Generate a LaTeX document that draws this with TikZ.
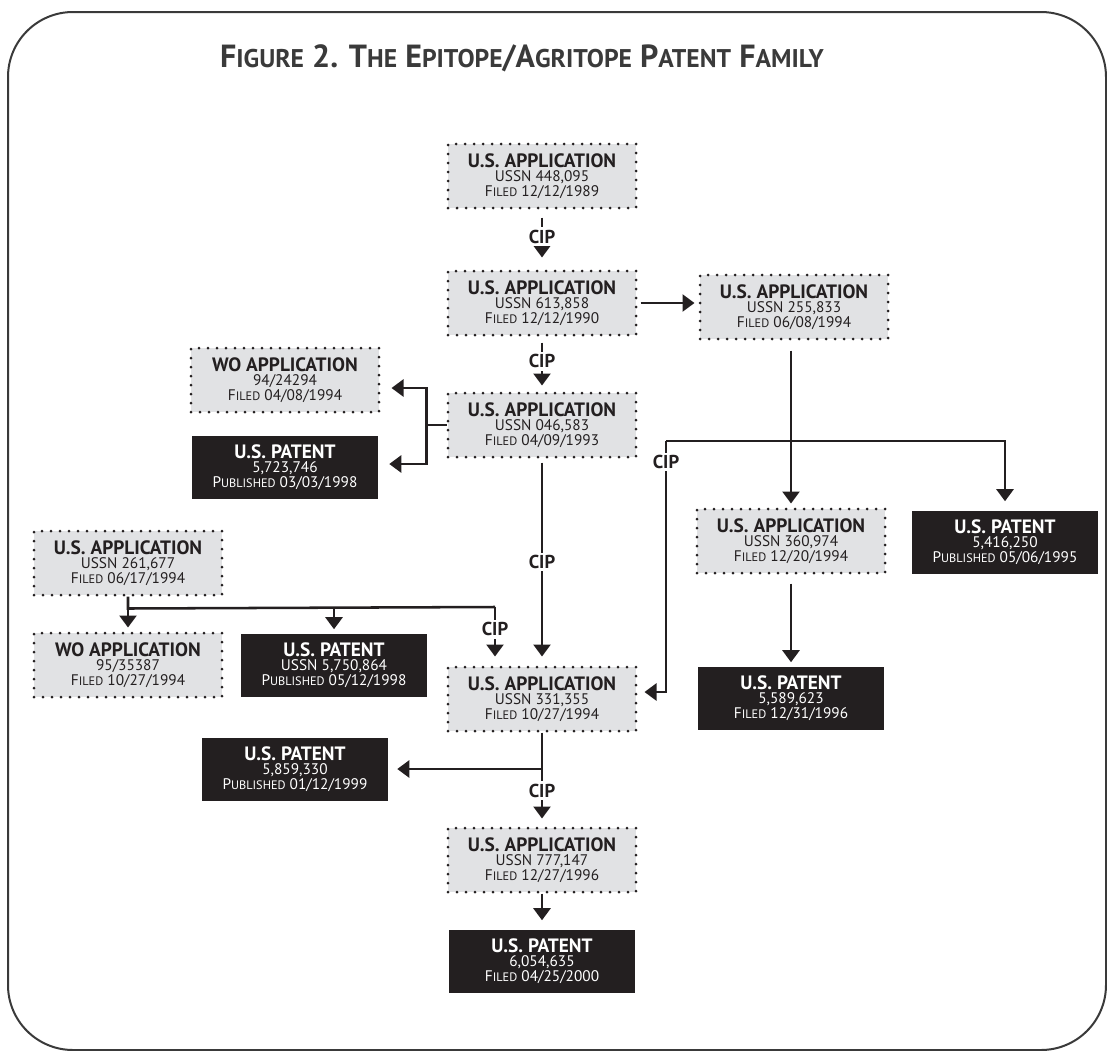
\documentclass[tikz,border=0pt]{standalone}
\usepackage{fontspec}
\setmainfont{PT Sans}
\usepackage{graphicx}
\usetikzlibrary{arrows.meta}

\definecolor{appgray}{HTML}{E1E2E4}
\definecolor{inkblack}{HTML}{231F20}
\definecolor{framegray}{HTML}{3A3A3A}

\newdimen\px \px=0.75pt
\newcommand{\sml}[1]{\scalebox{0.8}{#1}}
\newcommand{\hd}[1]{{\fontsize{14.5pt}{14.5pt}\selectfont\bfseries #1}}

\begin{document}
\begin{tikzpicture}[x=\px, y=-\px,
    wire/.style={draw=inkblack, line width=1.9pt},
    arr/.style={wire, -{Triangle[width=12.75pt,length=9pt]}},
    app/.style={draw=inkblack, fill=appgray, line width=3\px, dash pattern=on 0pt off 9\px,
        line cap=round, minimum width=188\px, minimum height=64\px, inner sep=0pt,
        align=center, text=inkblack, font=\fontsize{11.5pt}{11pt}\selectfont},
    pat/.style={fill=inkblack, text=white, minimum width=186\px, minimum height=63\px,
        inner sep=0pt, align=center, font=\fontsize{11.5pt}{11pt}\selectfont},
    cip/.style={fill=white, text=inkblack, inner xsep=2\px, inner ysep=2.5\px,
        font=\fontsize{14pt}{14pt}\selectfont\bfseries}]
    \useasboundingbox (0,0) rectangle (1107,1050);
    \draw[framegray, line width=2\px, rounded corners=65\px] (8,12) rectangle (1106,1050);
    \node[text=framegray, font=\fontsize{24pt}{24pt}\selectfont\bfseries] (title) at (522,58)
        {F\sml{IGURE} 2. T\sml{HE} E\sml{PITOPE}/A\sml{GRITOPE} P\sml{ATENT} F\sml{AMILY}};

    % applications
    \node[app] (a448) at (542,176) {\hd{U.S. APPLICATION}\\ USSN 448,095\\ F\sml{ILED} 12/12/1989};
    \node[app] (a613) at (542,303) {\hd{U.S. APPLICATION}\\ USSN 613,858\\ F\sml{ILED} 12/12/1990};
    \node[app] (a255) at (794,307) {\hd{U.S. APPLICATION}\\ USSN 255,833\\ F\sml{ILED} 06/08/1994};
    \node[app] (a046) at (542,425) {\hd{U.S. APPLICATION}\\ USSN 046,583\\ F\sml{ILED} 04/09/1993};
    \node[app] (wo94) at (285,380) {\hd{WO APPLICATION}\\ 94/24294\\ F\sml{ILED} 04/08/1994};
    \node[app] (a360) at (791,541) {\hd{U.S. APPLICATION}\\ USSN 360,974\\ F\sml{ILED} 12/20/1994};
    \node[app] (a261) at (128,563) {\hd{U.S. APPLICATION}\\ USSN 261,677\\ F\sml{ILED} 06/17/1994};
    \node[app] (wo95) at (128,665) {\hd{WO APPLICATION}\\ 95/35387\\ F\sml{ILED} 10/27/1994};
    \node[app] (a331) at (542,699) {\hd{U.S. APPLICATION}\\ USSN 331,355\\ F\sml{ILED} 10/27/1994};
    \node[app] (a777) at (542,860) {\hd{U.S. APPLICATION}\\ USSN 777,147\\ F\sml{ILED} 12/27/1996};

    % patents
    \node[pat] (p723) at (285,467) {\hd{U.S. PATENT}\\ 5,723,746\\ P\sml{UBLISHED} 03/03/1998};
    \node[pat] (p416) at (1005,542) {\hd{U.S. PATENT}\\ 5,416,250\\ P\sml{UBLISHED} 05/06/1995};
    \node[pat] (p750) at (334,665) {\hd{U.S. PATENT}\\ USSN 5,750,864\\ P\sml{UBLISHED} 05/12/1998};
    \node[pat] (p589) at (791,698) {\hd{U.S. PATENT}\\ 5,589,623\\ F\sml{ILED} 12/31/1996};
    \node[pat] (p859) at (295,769) {\hd{U.S. PATENT}\\ 5,859,330\\ P\sml{UBLISHED} 01/12/1999};
    \node[pat] (p054) at (542,961) {\hd{U.S. PATENT}\\ 6,054,635\\ F\sml{ILED} 04/25/2000};

    % main chain
    \draw[arr, shorten <=8\px, shorten >=12\px] (a448) -- node[cip, pos=0.45] (cip1) {CIP} (a613);
    \draw[arr, shorten <=3\px, shorten >=4\px] (a613.east) -- (a613.east -| a255.west);
    \draw[arr, shorten <=6\px, shorten >=6\px] (a613) -- node[cip, pos=0.45] (cip2) {CIP} (a046);

    % 046,583 -> WO and patent
    \coordinate (j1) at ([xshift=-20\px]a046.west);
    \draw[wire] (a046.west) -- (j1);
    \draw[arr, shorten >=11\px] (j1) |- ([yshift=-8\px]wo94.east);
    \draw[arr, shorten >=11\px] (j1) |- ([yshift=3\px]p723.east);
    \draw[arr, shorten <=4\px, shorten >=9\px] (a046) -- node[cip] (cip3) {CIP} (a331);

    % 255,833 branch
    \coordinate (j2) at (791,441);
    \coordinate (j3) at (666,441);
    \draw[arr, shorten <=10\px, shorten >=4\px] (a255.south -| a360.north) -- (a360.north);
    \draw[arr, shorten >=9\px] (j3) -- (j2) -| (p416.north);
    \draw[arr, shorten >=7\px] (j3) |- ([yshift=7\px]a331.east) node[cip, pos=0.042] (cip4) {CIP};
    \draw[arr, shorten <=9\px, shorten >=4\px] (a360) -- (p589);

    % 261,677 branch
    \coordinate (j4) at ([yshift=-12\px]a261.south);
    \coordinate (j5) at (495,607);
    \draw[wire] (a261.south) -- (j4) -- (j5);
    \draw[arr, shorten >=4\px] (j4) -- (wo95);
    \draw[arr, shorten >=4\px] (j4 -| p750) -- (p750);
    \draw[arr, shorten >=9\px] (j5) -- node[cip, pos=0.38] (cip5) {CIP} (j5 |- a331.north);

    % 331,355 -> patent and 777,147
    \coordinate (j6) at (a331.south |- p859);
    \draw[arr, shorten >=9\px] (j6) -- (p859);
    \draw[arr, shorten >=8\px] (a331) -- node[cip, pos=0.62] (cip6) {CIP} (a777);
    \draw[arr, shorten >=9\px] (a777) -- (p054);
\end{tikzpicture}
\end{document}
